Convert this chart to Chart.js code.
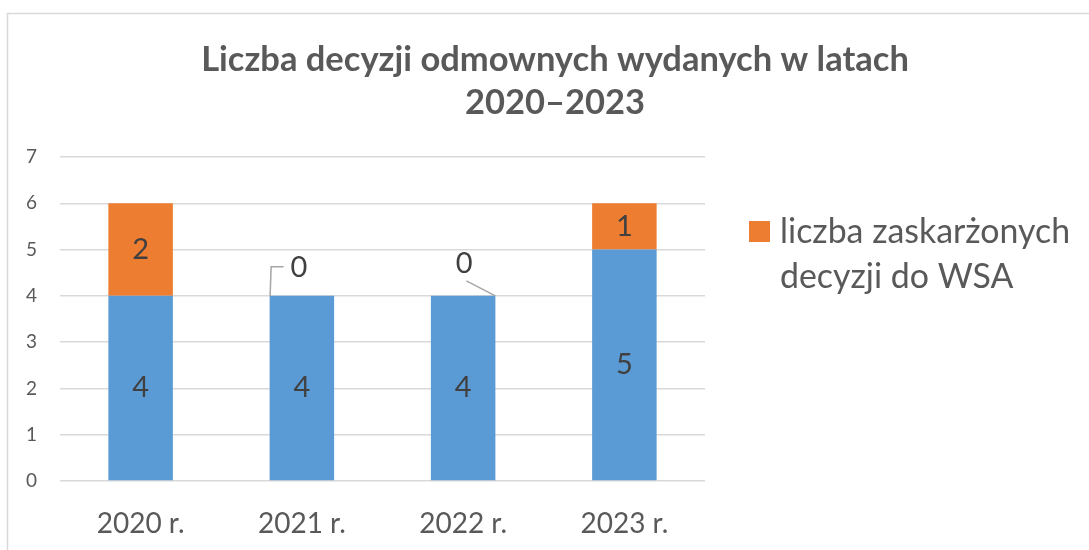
<!DOCTYPE html>
<html>
<head>
<meta charset="utf-8">
<script src="https://cdn.jsdelivr.net/npm/chart.js@4.4.1/dist/chart.umd.min.js"></script>
<style>
    html, body { margin: 0; padding: 0; background: #fff; }
    #grafico { display: block; }
</style>
</head>
<body>
<canvas id="grafico" width="1089" height="550"></canvas>
<script>
// dados
const anos = ['2020 r.', '2021 r.', '2022 r.', '2023 r.']
const decyzjeOdmowne = [4, 4, 4, 5]
const zaskarzone = [2, 0, 0, 1]
const yMax = 7
const tytul = ['Liczba decyzji odmownych wydanych w latach', '2020–2023']
const legendaTekst = ['liczba zaskarżonych', 'decyzji do WSA']

const fonte = 'Lato, "DejaVu Sans", sans-serif'
const azul = '#5B9BD5'
const laranja = '#ED7D31'
const cinzaTexto = '#595959'

// rótulos "0" ficam fora da barra, com linha de chamada
const ladoChamada = { 1: 'left', 2: 'right' }

// acha o tamanho de fonte que deixa o texto com a largura pedida
function ajustarFonte(ctx, texto, largura, peso) {
    ctx.font = peso + ' 100px ' + fonte
    const w = ctx.measureText(texto).width
    return Math.round(100 * largura / w * 10) / 10
}

const desenhos = {
    id: 'desenhos',
    beforeDraw(chart) {
        const ctx = chart.ctx
        ctx.save()
        ctx.strokeStyle = '#d9d9d9'
        ctx.lineWidth = 1.5
        ctx.beginPath()
        ctx.moveTo(7.5, 550)
        ctx.lineTo(7.5, 13.5)
        ctx.lineTo(1089, 13.5)
        ctx.stroke()
        ctx.restore()
    },
    afterDatasetsDraw(chart) {
        const ctx = chart.ctx
        ctx.save()
        ctx.font = '29px ' + fonte
        ctx.fillStyle = '#404040'
        ctx.textAlign = 'center'
        ctx.textBaseline = 'middle'
        chart.data.datasets.forEach((ds, d) => {
            const meta = chart.getDatasetMeta(d)
            meta.data.forEach((bar, i) => {
                const valor = ds.data[i]
                if (valor > 0) {
                    ctx.fillText(String(valor), bar.x, (bar.y + bar.base) / 2)
                    return
                }
                const lado = ladoChamada[i]
                ctx.strokeStyle = '#a6a6a6'
                ctx.lineWidth = 1.5
                ctx.beginPath()
                if (lado === 'left') {
                    const x0 = bar.x - bar.width / 2
                    ctx.moveTo(x0 + 0.5, bar.y)
                    ctx.lineTo(x0 + 1.5, bar.y - 29)
                    ctx.lineTo(x0 + 14, bar.y - 29)
                    ctx.stroke()
                    ctx.fillText('0', bar.x - 3, bar.y - 28)
                } else {
                    const x1 = bar.x + bar.width / 2
                    ctx.moveTo(x1, bar.y)
                    ctx.lineTo(x1 - 29, bar.y - 15)
                    ctx.stroke()
                    ctx.fillText('0', bar.x + 1, bar.y - 32)
                }
            })
        })
        ctx.restore()
    },
    afterDraw(chart) {
        const ctx = chart.ctx
        ctx.save()
        // título
        const tamTitulo = ajustarFonte(ctx, tytul[0], 708, 'bold')
        ctx.font = 'bold ' + tamTitulo + 'px ' + fonte
        ctx.fillStyle = cinzaTexto
        ctx.textAlign = 'center'
        ctx.textBaseline = 'middle'
        ctx.fillText(tytul[0], 555, 60)
        ctx.fillText(tytul[1], 555, 103)

        // legenda (só a série laranja)
        ctx.fillStyle = laranja
        ctx.fillRect(749, 221, 21, 21)
        const tamLegenda = ajustarFonte(ctx, legendaTekst[0], 290, 'normal')
        ctx.font = tamLegenda + 'px ' + fonte
        ctx.fillStyle = cinzaTexto
        ctx.textAlign = 'left'
        ctx.fillText(legendaTekst[0], 780, 232)
        ctx.fillText(legendaTekst[1], 780, 277)
        ctx.restore()
    }
}

const grafico = new Chart(document.getElementById('grafico'), {
    type: 'bar',
    data: {
        labels: anos,
        datasets: [
            {
                label: 'liczba decyzji odmownych',
                data: decyzjeOdmowne,
                backgroundColor: azul,
                barPercentage: 0.4,
                categoryPercentage: 1
            },
            {
                label: legendaTekst.join(' '),
                data: zaskarzone,
                backgroundColor: laranja,
                barPercentage: 0.4,
                categoryPercentage: 1
            }
        ]
    },
    options: {
        responsive: false,
        animation: false,
        devicePixelRatio: 1,
        layout: {
            padding: { top: 157, right: 384, bottom: 0, left: 0 }
        },
        scales: {
            x: {
                stacked: true,
                grid: { display: false },
                border: { display: false },
                ticks: {
                    color: cinzaTexto,
                    font: { family: fonte, size: 28 },
                    padding: 18
                },
                afterFit(scale) {
                    scale.height = 69
                }
            },
            y: {
                stacked: true,
                min: 0,
                max: yMax,
                grid: {
                    color: '#d9d9d9',
                    lineWidth: 1.5,
                    drawTicks: false
                },
                border: { display: false },
                ticks: {
                    stepSize: 1,
                    color: cinzaTexto,
                    font: { family: fonte, size: 19 },
                    padding: 23
                },
                afterFit(scale) {
                    scale.width = 60
                }
            }
        },
        plugins: {
            legend: { display: false },
            title: { display: false },
            tooltip: { enabled: false }
        }
    },
    plugins: [desenhos]
})
</script>
</body>
</html>
